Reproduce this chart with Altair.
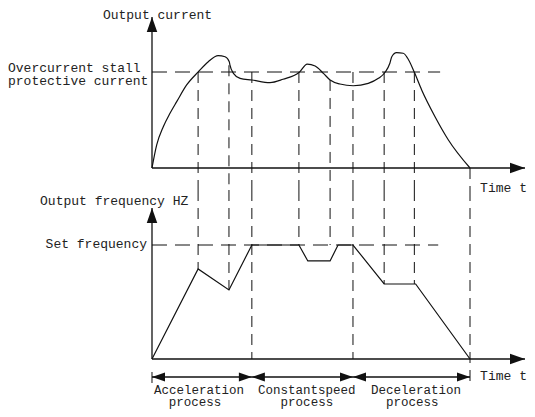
import altair as alt
import pandas as pd

# ---------------- data ----------------
# output current curve (time t, current in % of stall level)
cur_t = [0, 1.48, 3.55, 5.66, 7.77, 10.9, 14.6, 17.7, 20.8, 23.0, 24.3, 24.5, 25.6, 27.7,
         31.4, 37.1, 41.2, 46.3, 48.8, 51.3, 53.9, 56.0, 59.1, 63.3, 68.0, 71.2, 73.3,
         74.8, 75.4, 76.9, 79.0, 80.4, 82.5, 84.8, 89.0, 93.2, 100]
cur_v = [0, 24.0, 43.0, 57.0, 69.1, 86.5, 100.3, 110.7, 117.0, 115.9, 110.7, 107.3, 98.6, 93.4,
         91.7, 88.9, 92.4, 99.7, 108.3, 106.3, 98.6, 91.7, 87.5, 85.7, 88.2, 93.4, 99.7,
         109.1, 115.9, 120.1, 119.5, 114.3, 99.7, 81.3, 53.4, 29.2, 0]

# output frequency curve (time t, Hz)
freq_t = [0, 14.5, 24.2, 31.4, 46.2, 49.0, 56.0, 58.5, 63.2, 73.0, 82.9, 100]
freq_v = [0, 39.5, 30.3, 50, 50, 43.0, 43.0, 50, 50, 32.9, 32.9, 0]

stall_current = 100
stall_line_end = 90.6
set_frequency = 50
set_line_end = 90.0

# vertical guide lines: time, upper end (current), lower end (frequency)
guide_t = [14.5, 24.2, 31.4, 46.2, 56.0, 63.2, 73.0, 82.5, 100]
guide_top = [100, 107, 100, 100, 91.7, 100, 100, 100, 0]
guide_bottom = [39.5, 30.3, 0, 50, 50, 0, 32.9, 32.9, -11.4]
stub_t = [0]
stub_top = [-5.7]
stub_bottom = [-11.4]

# process segments
process_bounds = [0, 31.4, 63.2, 100]
process_names = ["Acceleration", "Constantspeed", "Deceleration"]
process_name_t = [14.8, 48.7, 83.0]
process_word_t = [13.5, 48.7, 81.8]
process_row_f = -7.9
process_name_f = -15.2
process_word_f = -20.8

axis_tip_t = 117.3
cur_axis_tip = 157.3
freq_axis_tip = 66.2

# ---------------- scales ----------------
XS = alt.Scale(domain=[-45.28, 117.92], nice=False, zero=False)
YT = alt.Scale(domain=[-251.04, 166.667], nice=False, zero=False)
YB = alt.Scale(domain=[-21.93, 153.95], nice=False, zero=False)
SPLIT_CUR = -22.92   # boundary between the two panels in current units
SPLIT_FREQ = 74.12   # same boundary in frequency units

INK = "#111111"
TXT = "#222222"
FONT = "'Liberation Mono', 'Courier New', monospace"

ARROW_R = "M0,0L-2,-0.7L-2,0.7Z"
ARROW_L = "M0,0L2,-0.7L2,0.7Z"
ARROW_U = "M0,0L-0.7,2L0.7,2Z"


def X(f):
    return alt.X(f, type="quantitative", scale=XS, axis=None)


def Y(f, s):
    return alt.Y(f, type="quantitative", scale=s, axis=None)


def df(**kw):
    return pd.DataFrame(kw)


layers = []

# ---- top panel: output current ----
layers.append(alt.Chart(df(t=cur_t, v=cur_v)).mark_line(
    interpolate="monotone", color=INK, strokeWidth=1.2).encode(x=X("t"), y=Y("v", YT)))
layers.append(alt.Chart(df(t=[0], t2=[stall_line_end], v=[stall_current])).mark_rule(
    color=INK, strokeWidth=1, strokeDash=[15, 8]).encode(x=X("t"), x2="t2", y=Y("v", YT)))
layers.append(alt.Chart(df(t=guide_t, v=guide_top, v2=[SPLIT_CUR] * len(guide_t))).mark_rule(
    color=INK, strokeWidth=1, strokeDash=[11, 7]).encode(x=X("t"), y=Y("v", YT), y2="v2"))
layers.append(alt.Chart(df(t=[0], v=[0], v2=[cur_axis_tip])).mark_rule(
    color=INK, strokeWidth=1.3).encode(x=X("t"), y=Y("v", YT), y2="v2"))
layers.append(alt.Chart(df(t=[0], t2=[axis_tip_t], v=[0])).mark_rule(
    color=INK, strokeWidth=1.3).encode(x=X("t"), x2="t2", y=Y("v", YT)))
layers.append(alt.Chart(df(t=[0], v=[cur_axis_tip])).mark_point(
    shape=ARROW_U, filled=True, size=225, color=INK, opacity=1, strokeWidth=0).encode(
    x=X("t"), y=Y("v", YT)))
layers.append(alt.Chart(df(t=[axis_tip_t], v=[0])).mark_point(
    shape=ARROW_R, filled=True, size=225, color=INK, opacity=1, strokeWidth=0).encode(
    x=X("t"), y=Y("v", YT)))

# ---- bottom panel: output frequency ----
layers.append(alt.Chart(df(t=freq_t, v=freq_v)).mark_line(
    color=INK, strokeWidth=1.2).encode(x=X("t"), y=Y("v", YB)))
layers.append(alt.Chart(df(t=[0], t2=[set_line_end], v=[set_frequency])).mark_rule(
    color=INK, strokeWidth=1, strokeDash=[15, 8]).encode(x=X("t"), x2="t2", y=Y("v", YB)))
layers.append(alt.Chart(df(t=guide_t, v=[SPLIT_FREQ] * len(guide_t), v2=guide_bottom)).mark_rule(
    color=INK, strokeWidth=1, strokeDash=[11, 7]).encode(x=X("t"), y=Y("v", YB), y2="v2"))
layers.append(alt.Chart(df(t=stub_t, v=stub_top, v2=stub_bottom)).mark_rule(
    color=INK, strokeWidth=1, strokeDash=[11, 7]).encode(x=X("t"), y=Y("v", YB), y2="v2"))
layers.append(alt.Chart(df(t=[0], v=[0], v2=[freq_axis_tip])).mark_rule(
    color=INK, strokeWidth=1.3).encode(x=X("t"), y=Y("v", YB), y2="v2"))
layers.append(alt.Chart(df(t=[0], t2=[axis_tip_t], v=[0])).mark_rule(
    color=INK, strokeWidth=1.3).encode(x=X("t"), x2="t2", y=Y("v", YB)))
layers.append(alt.Chart(df(t=[0], v=[freq_axis_tip])).mark_point(
    shape=ARROW_U, filled=True, size=225, color=INK, opacity=1, strokeWidth=0).encode(
    x=X("t"), y=Y("v", YB)))
layers.append(alt.Chart(df(t=[axis_tip_t], v=[0])).mark_point(
    shape=ARROW_R, filled=True, size=225, color=INK, opacity=1, strokeWidth=0).encode(
    x=X("t"), y=Y("v", YB)))

# ---- process arrows ----
layers.append(alt.Chart(df(t=[process_bounds[0]], t2=[process_bounds[-1]], v=[process_row_f])).mark_rule(
    color=INK, strokeWidth=1.3).encode(x=X("t"), x2="t2", y=Y("v", YB)))
layers.append(alt.Chart(df(t=process_bounds[:-1], v=[process_row_f] * 3)).mark_point(
    shape=ARROW_L, filled=True, size=169, color=INK, opacity=1, strokeWidth=0).encode(
    x=X("t"), y=Y("v", YB)))
layers.append(alt.Chart(df(t=process_bounds[1:], v=[process_row_f] * 3)).mark_point(
    shape=ARROW_R, filled=True, size=169, color=INK, opacity=1, strokeWidth=0).encode(
    x=X("t"), y=Y("v", YB)))


# ---- texts ----
def text_layer(labels, ts, vs, scale, align, size=13):
    return alt.Chart(df(label=labels, t=ts, v=vs)).mark_text(
        font=FONT, fontSize=size, color=TXT, align=align, baseline="alphabetic").encode(
        x=X("t"), y=Y("v", scale), text="label:N")


layers.append(text_layer(["Output current"], [1.73], [155.2], YT, "center"))
layers.append(text_layer(["Overcurrent stall", "protective current"],
                         [-45.28, -45.28], [100.5, 86.5], YT, "left"))
layers.append(text_layer(["Time t"], [117.9], [-24.5], YT, "right"))
layers.append(text_layer(["Output frequency HZ"], [-35.2], [67.5], YB, "left"))
layers.append(text_layer(["Time t"], [117.9], [-9.2], YB, "right"))
layers.append(text_layer(["Set frequency"], [-1.57], [48.7], YB, "right"))
layers.append(text_layer(process_names, process_name_t, [process_name_f] * 3, YB, "center", 12.5))
layers.append(text_layer(["process"] * 3, process_word_t, [process_word_f] * 3, YB, "center", 12.5))

chart = alt.layer(*layers).resolve_scale(y="independent").properties(
    width=519, height=401, padding=0,
    autosize=alt.AutoSizeParams(type="none"),
).configure_view(stroke=None)

chart.save("out.html", embed_options={"renderer": "svg", "actions": False})
